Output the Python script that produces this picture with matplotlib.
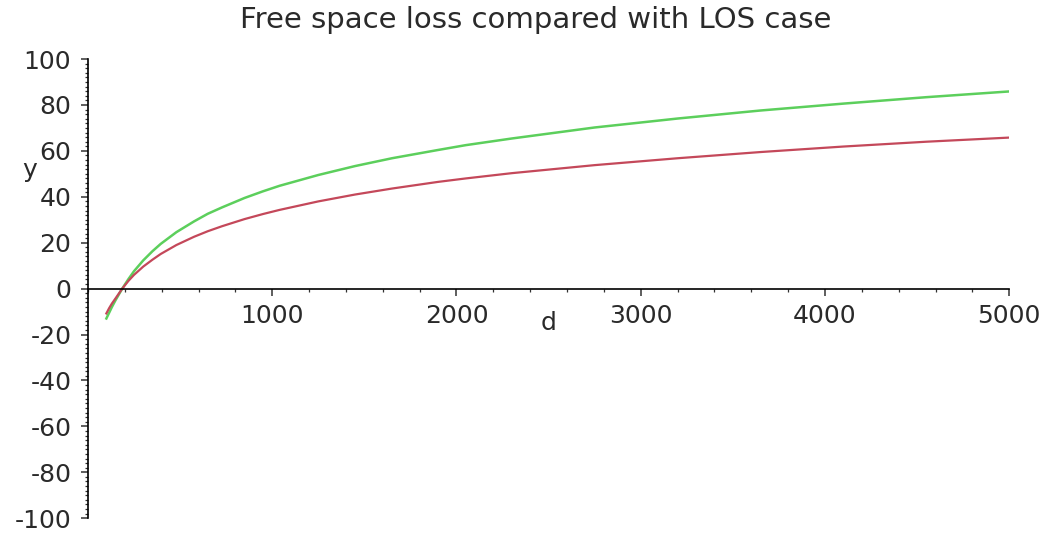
import matplotlib
matplotlib.use('Agg')
import matplotlib.pyplot as plt
from matplotlib.ticker import MultipleLocator

plt.rcParams['font.family'] = 'DejaVu Sans'
plt.rcParams['axes.unicode_minus'] = False

# distance d and the two loss curves
d = [100, 115, 130, 150, 186, 220, 250, 300, 350, 395, 480, 576, 650, 728, 850,
     950, 1040, 1250, 1450, 1650, 1900, 2050, 2300, 2750, 3200, 3650, 4100,
     4550, 5000]
free_space = [-13, -10.5, -8, -5, 0, 4.2, 7.6, 12.3, 16.3, 19.5, 24.6, 29.3,
              32.6, 35.4, 39.5, 42.4, 44.8, 49.5, 53.4, 56.8, 60.4, 62.5, 65.4,
              70.2, 74.1, 77.6, 80.6, 83.4, 85.9]
los = [-10.8, -8.5, -6.5, -4.2, 0, 3.4, 6.0, 9.6, 12.6, 15.1, 19, 22.6, 25,
       27.2, 30.3, 32.5, 34.3, 38, 41, 43.6, 46.5, 48, 50.3, 53.8, 56.8, 59.5,
       61.9, 64, 65.8]

x_ticks = [1000, 2000, 3000, 4000, 5000]
y_ticks = list(range(-100, 101, 20))

text_color = '#2a2a2a'

fig = plt.figure(figsize=(10.47, 5.37), dpi=100)
ax = fig.add_axes([0.084, 0.035, 0.880, 0.855])

ax.plot(d, free_space, color='#5ccf5c', linewidth=1.8)
ax.plot(d, los, color='#c4485a', linewidth=1.6)

ax.set_xlim(0, 5000)
ax.set_ylim(-100, 100)

# maple-style axes: y axis on the left, x axis crossing at y = 0
ax.spines['top'].set_visible(False)
ax.spines['right'].set_visible(False)
ax.spines['bottom'].set_position(('data', 0))
ax.spines['left'].set_linewidth(1.2)
ax.spines['bottom'].set_linewidth(1.2)

ax.set_xticks(x_ticks)
ax.set_yticks(y_ticks)
ax.xaxis.set_minor_locator(MultipleLocator(200))
ax.yaxis.set_minor_locator(MultipleLocator(2))
ax.tick_params(axis='both', which='major', labelsize=18, colors='#333333',
               labelcolor=text_color, length=5, width=1.1, direction='out')
ax.tick_params(axis='both', which='minor', length=2.5, width=0.9, color='#333333',
               direction='out')
ax.tick_params(axis='y', which='major', pad=7)
ax.tick_params(axis='x', which='major', pad=6)

ax.text(-315, 51.5, 'y', fontsize=18, color=text_color, ha='center', va='center')
ax.text(2500, -15, 'd', fontsize=18, color=text_color, ha='center', va='center')

fig.text(0.512, 0.962, 'Free space loss compared with LOS case', fontsize=21,
         color=text_color, ha='center', va='center')

fig.savefig('out.png', dpi=100)
